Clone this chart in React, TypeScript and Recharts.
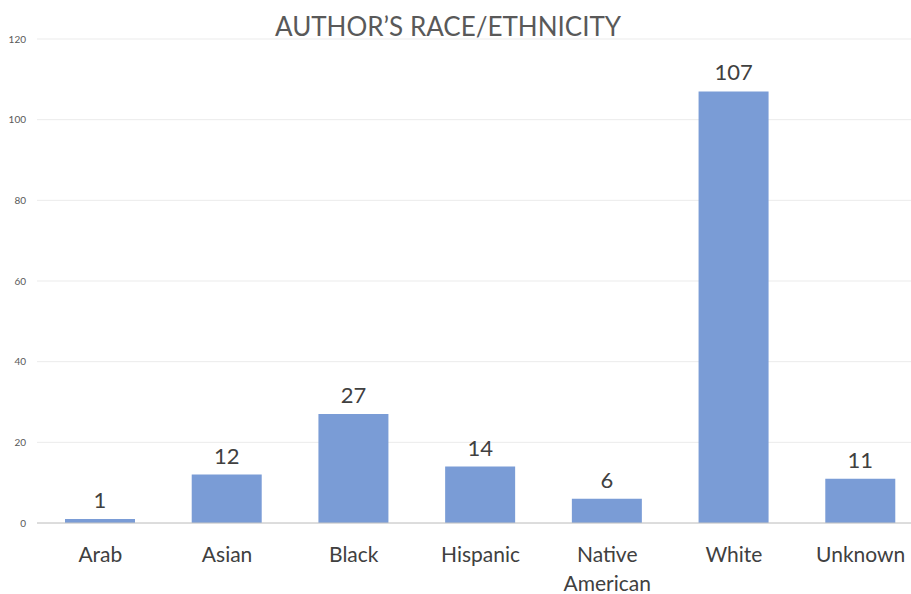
import React from "react";
import { BarChart, Bar, XAxis, YAxis, CartesianGrid, LabelList } from "recharts";

// categories and counts
const categories = ["Arab", "Asian", "Black", "Hispanic", "Native American", "White", "Unknown"];
const counts = [1, 12, 27, 14, 6, 107, 11];
const yTicks = [0, 20, 40, 60, 80, 100, 120];

const data = categories.map((name, i) => ({ name, count: counts[i] }));

const BAR_COLOR = "#7A9CD6";
const FONT = "Lato, 'Open Sans', sans-serif";

// category labels, wrapped on spaces like Excel does
const CategoryTick = (props: any) => {
  const { x, y, payload } = props;
  const words: string[] = String(payload.value).split(" ");
  return (
    <g transform={`translate(${x},${y})`}>
      <text textAnchor="middle" fill="#404040" fontSize={21} fontFamily={FONT}>
        {words.map((w, i) => (
          <tspan key={w} x={0} y={39 + i * 29}>
            {w}
          </tspan>
        ))}
      </text>
    </g>
  );
};

export default function App() {
  return (
    <div
      style={{
        position: "fixed",
        top: 0,
        left: 0,
        width: 911,
        height: 594,
        overflow: "hidden",
        background: "#fff",
      }}
    >
      <div
        style={{
          position: "absolute",
          top: 13,
          left: 0,
          width: 896,
          textAlign: "center",
          fontFamily: FONT,
          fontSize: 26,
          lineHeight: "26px",
          color: "#595959",
        }}
      >
        AUTHOR’S RACE/ETHNICITY
      </div>
      <BarChart
        width={930}
        height={594}
        data={data}
        margin={{ top: 39, right: 6, bottom: 0, left: 0 }}
        barSize={70}
      >
        <CartesianGrid vertical={false} stroke="#ebebeb" />
        <YAxis
          width={37}
          domain={[0, 120]}
          ticks={yTicks}
          axisLine={false}
          tickLine={false}
          tickSize={0}
          tickMargin={11}
          tick={{ fill: "#595959", fontSize: 10, fontFamily: FONT }}
        />
        <XAxis
          dataKey="name"
          height={71}
          axisLine={{ stroke: "#c4c4c4" }}
          tickLine={false}
          tickSize={0}
          tickMargin={0}
          interval={0}
          tick={<CategoryTick />}
        />
        <Bar dataKey="count" fill={BAR_COLOR} isAnimationActive={false}>
          <LabelList
            dataKey="count"
            position="top"
            offset={11}
            fill="#404040"
            fontSize={22}
            fontFamily={FONT}
          />
        </Bar>
      </BarChart>
    </div>
  );
}
